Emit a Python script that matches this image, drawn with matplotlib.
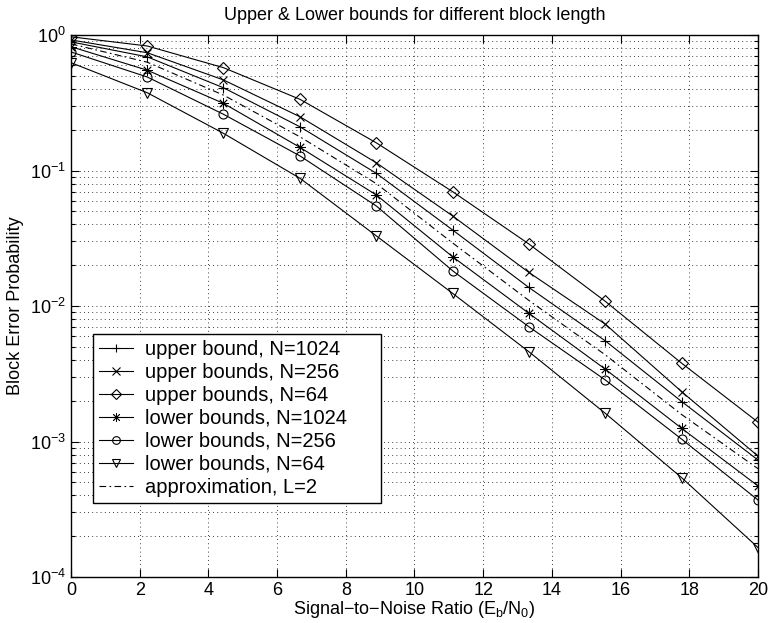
import numpy as np
import matplotlib
matplotlib.use('Agg')
import matplotlib.pyplot as plt
from matplotlib.ticker import LogLocator, NullFormatter

plt.rcParams['font.family'] = ['Liberation Sans', 'DejaVu Sans']
plt.rcParams['mathtext.fontset'] = 'custom'
plt.rcParams['mathtext.rm'] = 'Liberation Sans'
plt.rcParams['mathtext.it'] = 'Liberation Sans'

# values
snr = [0, 2.22, 4.44, 6.67, 8.89, 11.11, 13.33, 15.56, 17.78, 20]
upper_1024 = [0.89, 0.69, 0.408, 0.21, 0.0953, 0.0364, 0.0137, 0.00552, 0.00197, 0.00073]
upper_256 = [0.92, 0.74, 0.466, 0.249, 0.114, 0.0462, 0.0177, 0.00733, 0.00233, 0.00078]
upper_64 = [0.97, 0.83, 0.574, 0.335, 0.16, 0.0698, 0.0287, 0.0108, 0.00378, 0.00139]
lower_1024 = [0.82, 0.55, 0.313, 0.148, 0.066, 0.0231, 0.00883, 0.00341, 0.00125, 0.00047]
lower_256 = [0.75, 0.49, 0.26, 0.128, 0.0547, 0.0182, 0.00703, 0.00284, 0.00104, 0.00037]
lower_64 = [0.625, 0.375, 0.188, 0.0875, 0.0329, 0.0124, 0.0046, 0.00161, 0.00054, 0.000165]
approx_l2 = [0.86, 0.63, 0.36, 0.177, 0.080, 0.0292, 0.0110, 0.00435, 0.00158, 0.00063]

fig = plt.figure(figsize=(7.69, 6.23), dpi=100)
ax = fig.add_axes([0.0923, 0.0738, 0.8934, 0.87])

kw = dict(color='k', lw=0.8, mfc='none', mec='k', mew=0.8)
ax.plot(snr, upper_1024, marker='+', ms=7.5, label='upper bound, N=1024', **kw)
ax.plot(snr, upper_256, marker='x', ms=6, label='upper bounds, N=256', **kw)
ax.plot(snr, upper_64, marker='D', ms=6, label='upper bounds, N=64', **kw)
ax.plot(snr, lower_1024, marker=(8, 2, 0), ms=7.5, label='lower bounds, N=1024',
        color='k', lw=0.8, mec='k', mew=0.6)
ax.plot(snr, lower_256, marker='o', ms=6.5, label='lower bounds, N=256', **kw)
ax.plot(snr, lower_64, marker='v', ms=7, label='lower bounds, N=64', **kw)
ax.plot(snr, approx_l2, ls=(0, (6, 3, 1.5, 3)), color='k', lw=0.8, label='approximation, L=2')

ax.set_yscale('log')
ax.set_xlim(0, 20)
ax.set_ylim(1e-4, 1)
ax.set_xticks(np.arange(0, 21, 2))
ax.yaxis.set_minor_locator(LogLocator(base=10, subs=np.arange(2, 10)))
ax.yaxis.set_minor_formatter(NullFormatter())
ax.tick_params(which='both', direction='in', top=True, right=True, labelsize=13, width=0.8)
ax.tick_params(which='major', length=6)
ax.tick_params(which='minor', length=3)
ax.grid(True, which='major', ls=(0, (1, 4)), color='k', lw=0.6)
ax.grid(True, which='minor', axis='y', ls=(0, (1, 4)), color='k', lw=0.6)
for s in ax.spines.values():
    s.set_linewidth(1.0)

ax.set_title('Upper & Lower bounds for different block length', fontsize=13, pad=11)
ax.set_xlabel('Signal\u2212to\u2212Noise Ratio (E$_\\mathregular{b}$/N$_\\mathregular{0}$)', fontsize=13, labelpad=0)
ax.set_ylabel('Block Error Probability', fontsize=13, labelpad=4)

leg = ax.legend(loc='lower left', bbox_to_anchor=(0.0325, 0.137, 0.419, 0.306), mode='expand',
                borderaxespad=0, fontsize=14.5, frameon=True, fancybox=False, framealpha=1,
                edgecolor='k', handlelength=1.65, borderpad=0.3, labelspacing=0.2,
                handletextpad=0.6, markerscale=0.85)
leg.get_frame().set_linewidth(1.0)

fig.savefig('out.png', dpi=100)
